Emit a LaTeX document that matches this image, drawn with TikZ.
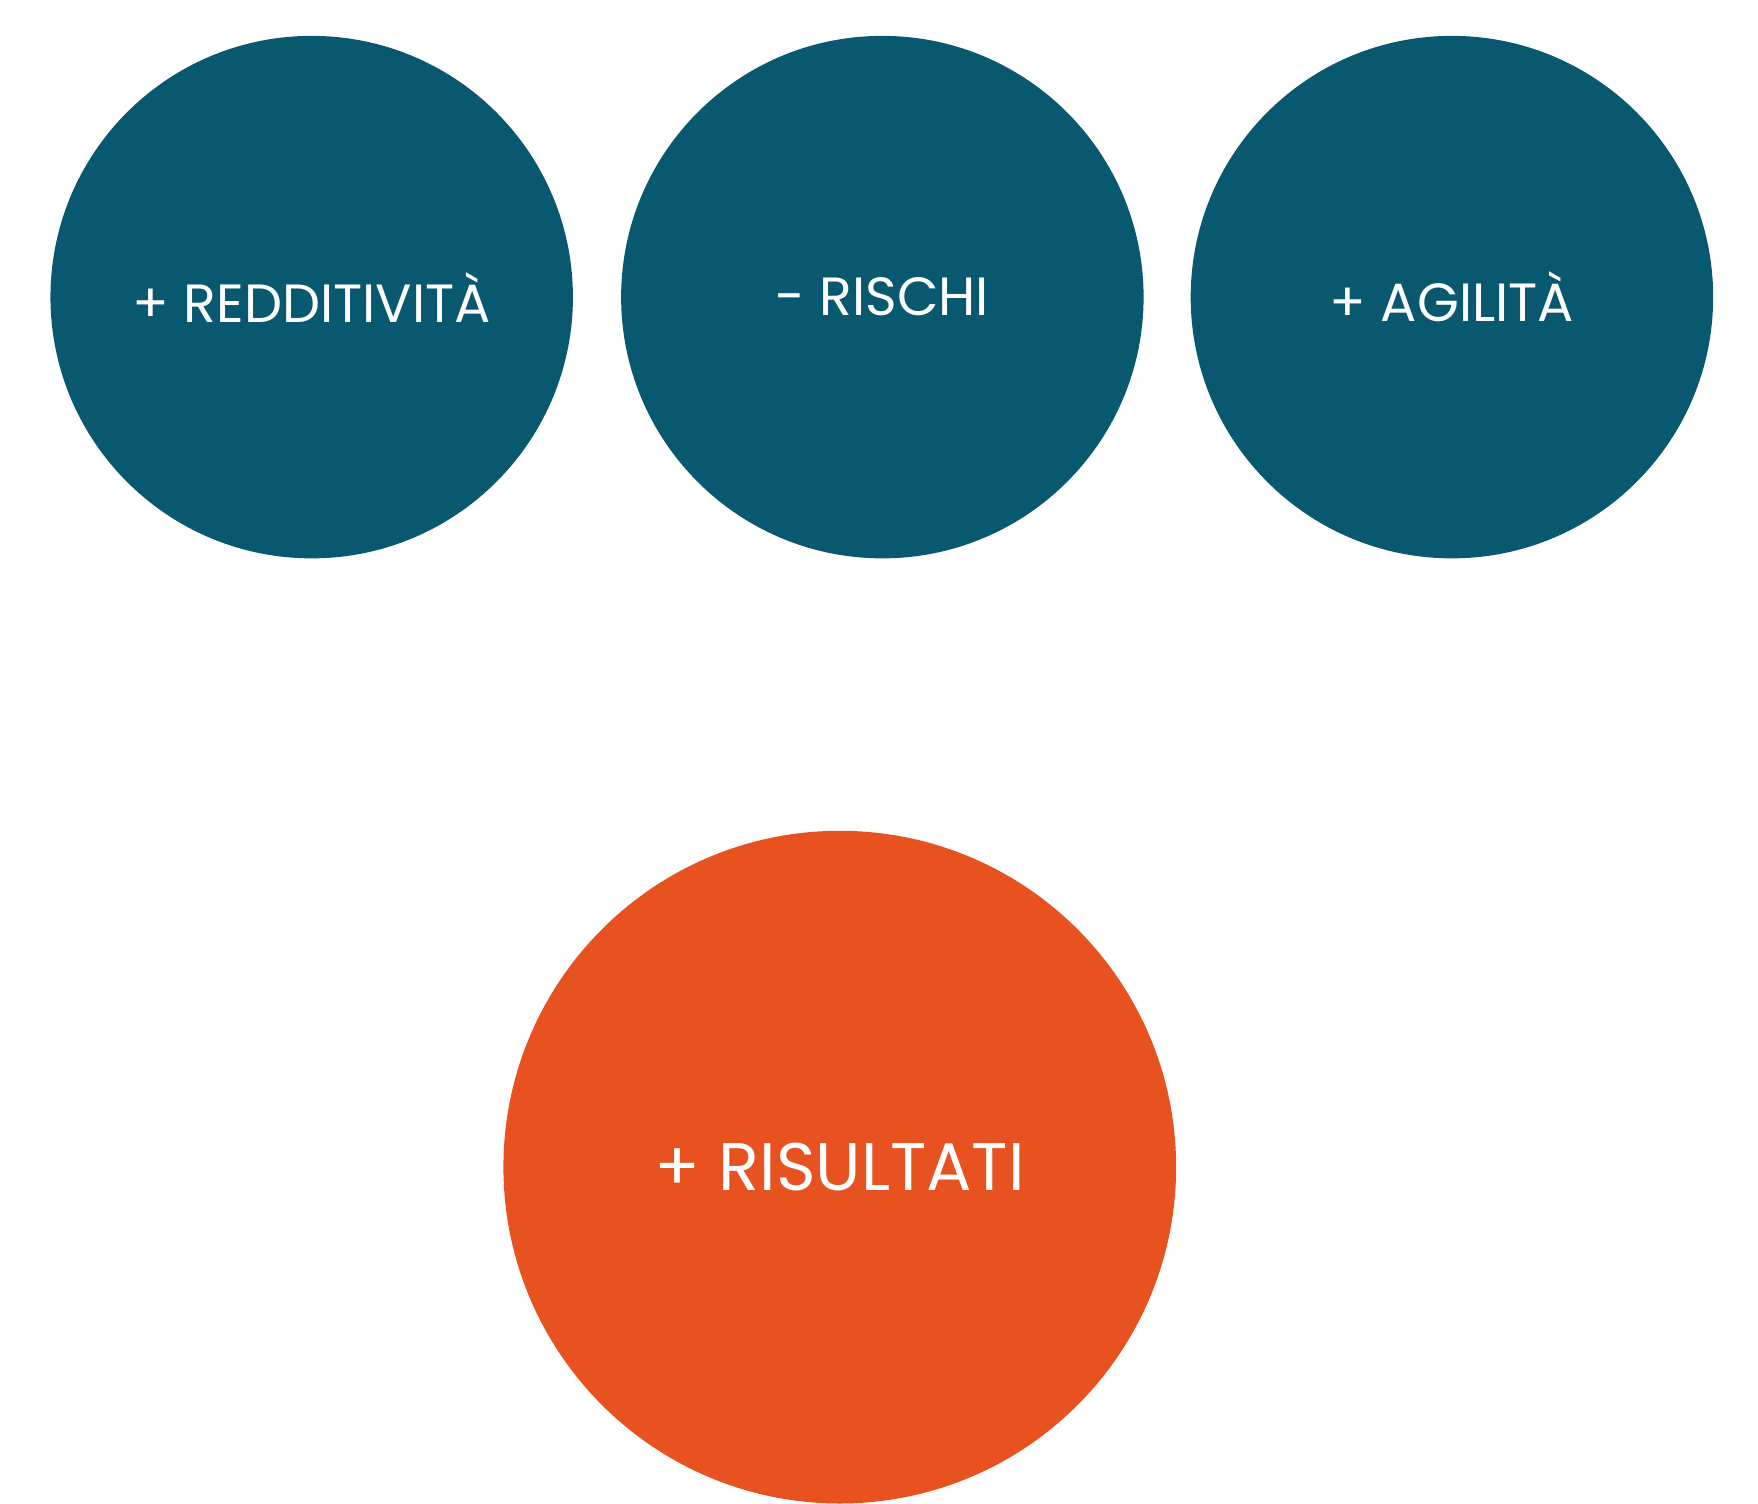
\documentclass[tikz,border=0pt]{standalone}
\usepackage{fontspec}
\setmainfont{Poppins}
\definecolor{teal}{HTML}{08596F}
\definecolor{orng}{HTML}{E85220}
\begin{document}
\begin{tikzpicture}[x=1pt,y=-1pt,
  c/.style={circle,inner sep=0pt,text=white,font=\fontsize{48}{50}\selectfont}]
\useasboundingbox (0,0) rectangle (1568,1341);
\fill[white] (0,0) rectangle (1568,1341);
\node[c,fill=teal,minimum size=466pt] (a) at (278,265) {+ REDDITIVITÀ};
\node[c,fill=teal,minimum size=466pt] (b) at (787,265) {- RISCHI};
\node[c,fill=teal,minimum size=466pt] (d) at (1295,265) {+ AGILITÀ};
\node[c,fill=orng,minimum size=600pt,font=\fontsize{60}{62}\selectfont] (r) at (749,1041) {+ RISULTATI};
\end{tikzpicture}
\end{document}
